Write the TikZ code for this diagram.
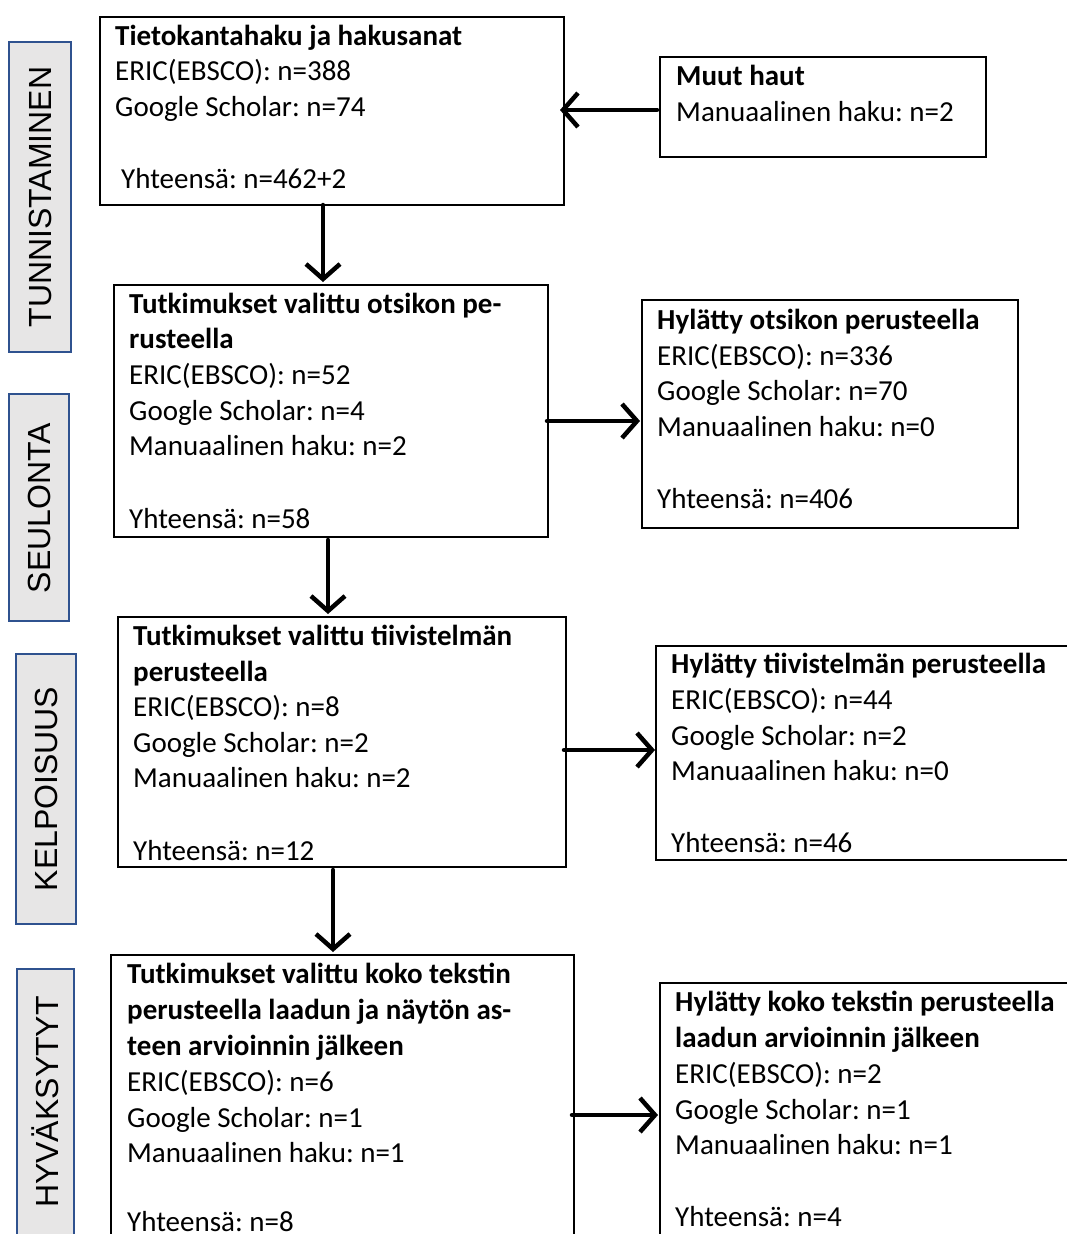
\documentclass[tikz,border=0pt]{standalone}
\usepackage{fontspec}
\setmainfont{Carlito}
\newfontfamily\labelfont{Liberation Sans}
\usetikzlibrary{arrows.meta,calc}
\definecolor{phasefill}{HTML}{E7E6E6}
\definecolor{phaseedge}{HTML}{2F528F}
\frenchspacing
\begin{document}
\begin{tikzpicture}[x=1pt,y=-1pt,
  flowbox/.style={draw=black,line width=2pt,rectangle,inner sep=0pt,outer sep=0pt,anchor=north west},
  phasebox/.style={draw=phaseedge,fill=phasefill,line width=2pt,rectangle,inner sep=0pt,outer sep=0pt,anchor=north west},
  phasetext/.style={font=\labelfont\fontsize{32}{32}\selectfont,rotate=90,inner sep=0pt},
  line/.style={font=\fontsize{29}{34}\selectfont,anchor=base west,inner sep=0pt},
  flow/.style={line width=4.5pt,line cap=round,-{Straight Barb[length=15pt,width=34pt,line width=4.5pt]}}]
\clip (0,0) rectangle (1067,1234);
\fill[white] (0,0) rectangle (1067,1234);

% phase labels on the left
\node[phasebox,minimum width=62pt,minimum height=310pt] (P1) at (9,42) {};
\node[phasetext] (P1t) at (40,197) {TUNNISTAMINEN};
\node[phasebox,minimum width=60pt,minimum height=227pt] (P2) at (9,394) {};
\node[phasetext] (P2t) at (39,508) {SEULONTA};
\node[phasebox,minimum width=60pt,minimum height=270pt] (P3) at (16,654) {};
\node[phasetext] (P3t) at (46,789) {KELPOISUUS};
\node[phasebox,minimum width=57pt,minimum height=300pt] (P4) at (17,969) {};
\node[phasetext] (P4t) at (45,1102) {HYVÄKSYTYT};

% flow boxes
\node[flowbox,minimum width=464pt,minimum height=188pt] (A) at (100,17) {};
\node[flowbox,minimum width=326pt,minimum height=100pt] (B) at (660,57) {};
\node[flowbox,minimum width=434pt,minimum height=252pt] (C) at (114,285) {};
\node[flowbox,minimum width=376pt,minimum height=228pt] (D) at (642,300) {};
\node[flowbox,minimum width=448pt,minimum height=250pt] (E) at (118,617) {};
\node[flowbox,minimum width=434pt,minimum height=214pt] (F) at (656,646) {};
\node[flowbox,minimum width=463pt,minimum height=320pt] (G) at (111,955) {};
\node[flowbox,minimum width=430pt,minimum height=264pt] (H) at (660,983) {};

% box texts
\foreach \yy/\lbl [count=\i] in {45/\textbf{Tietokantahaku ja hakusanat},80/ERIC(EBSCO): n=388,116/Google Scholar: n=74}
  \node[line,name=A\i] at (115,\yy) {\lbl};
\node[line] (A4) at (121,188) {Yhteensä: n=462+2};

\foreach \yy/\lbl [count=\i] in {85/\textbf{Muut haut},121/Manuaalinen haku: n=2}
  \node[line,name=B\i] at (676,\yy) {\lbl};

\foreach \yy/\lbl [count=\i] in {313/\textbf{Tutkimukset valittu otsikon pe-},348/\textbf{rusteella},384/ERIC(EBSCO): n=52,420/Google Scholar: n=4,455/Manuaalinen haku: n=2,528/Yhteensä: n=58}
  \node[line,name=C\i] at (129,\yy) {\lbl};

\foreach \yy/\lbl [count=\i] in {329/\textbf{Hylätty otsikon perusteella},365/ERIC(EBSCO): n=336,400/Google Scholar: n=70,436/Manuaalinen haku: n=0,508/Yhteensä: n=406}
  \node[line,name=D\i] at (657,\yy) {\lbl};

\foreach \yy/\lbl [count=\i] in {645/\textbf{Tutkimukset valittu tiivistelmän},681/\textbf{perusteella},716/ERIC(EBSCO): n=8,752/Google Scholar: n=2,787/Manuaalinen haku: n=2,860/Yhteensä: n=12}
  \node[line,name=E\i] at (133,\yy) {\lbl};

\foreach \yy/\lbl [count=\i] in {673/\textbf{Hylätty tiivistelmän perusteella},709/ERIC(EBSCO): n=44,745/Google Scholar: n=2,780/Manuaalinen haku: n=0,852/Yhteensä: n=46}
  \node[line,name=F\i] at (671,\yy) {\lbl};

\foreach \yy/\lbl [count=\i] in {983/\textbf{Tutkimukset valittu koko tekstin},1019/\textbf{perusteella laadun ja näytön as-},1055/\textbf{teen arvioinnin jälkeen},1091/ERIC(EBSCO): n=6,1127/Google Scholar: n=1,1162/Manuaalinen haku: n=1,1231/Yhteensä: n=8}
  \node[line,name=G\i] at (127,\yy) {\lbl};

\foreach \yy/\lbl [count=\i] in {1011/\textbf{Hylätty koko tekstin perusteella},1047/\textbf{laadun arvioinnin jälkeen},1083/ERIC(EBSCO): n=2,1119/Google Scholar: n=1,1154/Manuaalinen haku: n=1,1226/Yhteensä: n=4}
  \node[line,name=H\i] at (675,\yy) {\lbl};

% connectors
\draw[flow] ($(B.west)+(-3,3)$) -- ($(A.east)+(-4,-1)$);
\draw[flow] ($(A.south west)+(223,0)$) -- ($(C.north west)+(209,-3)$);
\draw[flow] ($(C.east)+(-1,10)$) -- ($(D.west)+(-2,7)$);
\draw[flow] ($(C.south west)+(214,3)$) -- ($(E.north west)+(210,-3)$);
\draw[flow] ($(E.east)+(-2,8)$) -- ($(F.west)+(-1,-3)$);
\draw[flow] ($(E.south west)+(215,3)$) -- ($(G.north west)+(222,-3)$);
\draw[flow] ($(G.east)+(-2,0)$) -- ($(H.west)+(-2,0)$);
\end{tikzpicture}
\end{document}
